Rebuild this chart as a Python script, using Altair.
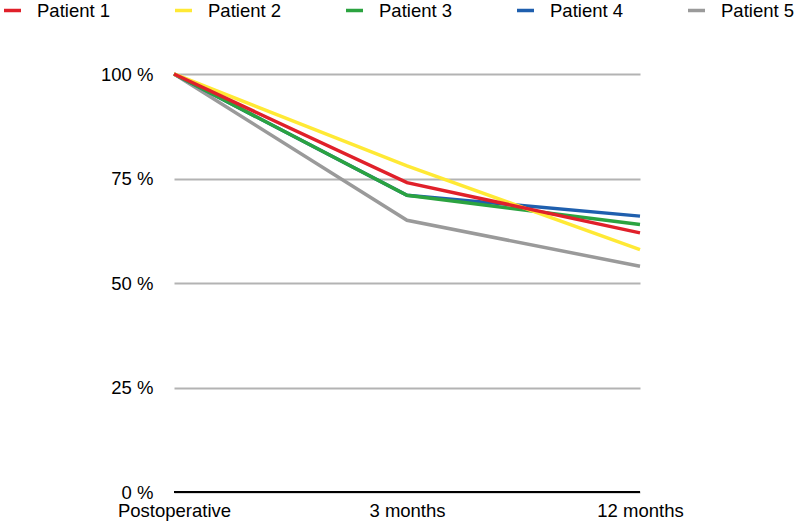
import altair as alt
import pandas as pd

timepoints = ["Postoperative", "3 months", "12 months"]
patients = ["Patient 1", "Patient 2", "Patient 3", "Patient 4", "Patient 5"]
colors = ["#e0202a", "#ffe935", "#2ba340", "#1f5fae", "#9a9a9a"]
values = {
    "Patient 1": [100, 74, 62],
    "Patient 2": [100, 78, 58],
    "Patient 3": [100, 71, 64],
    "Patient 4": [100, 71, 66],
    "Patient 5": [100, 65, 54],
}
y_ticks = [0, 25, 50, 75, 100]
baseline = [0]

draw_order = ["Patient 5", "Patient 4", "Patient 3", "Patient 2", "Patient 1"]
rows = []
for i, p in enumerate(draw_order):
    for t, v in zip(timepoints, values[p]):
        rows.append({"patient": p, "time": t, "value": v, "z": i})
df = pd.DataFrame(rows)

FONT = "Liberation Sans"
FS = 18.5

lines = alt.Chart(df).mark_line(strokeWidth=3.5).encode(
    x=alt.X("time:N", sort=timepoints, scale=alt.Scale(type="point", padding=0),
            axis=alt.Axis(title=None, labelAngle=0, labelFontSize=FS, labelFont=FONT,
                          labelColor="black", labelPadding=9, ticks=False, domain=False, grid=False)),
    y=alt.Y("value:Q", scale=alt.Scale(domain=[0, 100]),
            axis=alt.Axis(title=None, values=y_ticks, labelExpr="datum.value + ' %'",
                          labelFontSize=FS, labelFont=FONT, labelColor="black",
                          labelPadding=21, ticks=False, domain=False,
                          gridColor="#b3b3b3", gridWidth=2)),
    color=alt.Color("patient:N", scale=alt.Scale(domain=patients, range=colors),
                    legend=alt.Legend(title=None, orient="none", direction="horizontal",
                                      legendX=-172, legendY=-74, padding=0,
                                      symbolType="stroke", symbolSize=289, symbolStrokeWidth=3.5,
                                      labelFontSize=FS, labelFont=FONT, labelColor="black",
                                      labelOffset=14, columnPadding=57, labelLimit=200)),
    detail="patient:N",
    order=alt.Order("z:Q"),
)

base_rule = alt.Chart(pd.DataFrame({"y": baseline})).mark_rule(color="black", strokeWidth=2).encode(
    y="y:Q"
)

chart = alt.layer(base_rule, lines).properties(
    width=466, height=418,
    autosize=alt.AutoSizeParams(type="none"),
    padding={"left": 174, "top": 74, "right": 160, "bottom": 30},
    background="white",
).configure_view(stroke=None)

chart.save("out.html", embed_options={"renderer": "svg", "actions": False})
